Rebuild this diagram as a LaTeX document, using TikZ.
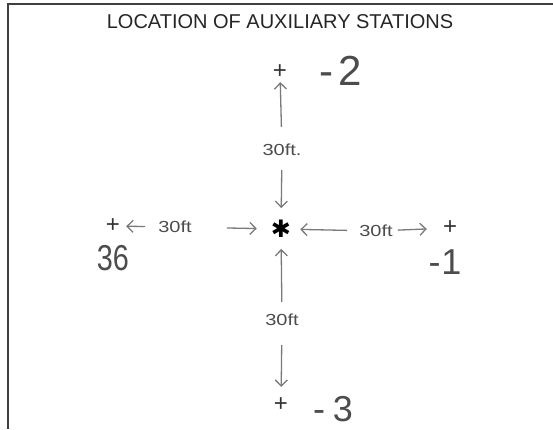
\documentclass[tikz,border=0pt]{standalone}
\usepackage{fontspec}
\setmainfont{Liberation Sans}
\newfontfamily\symfont{DejaVu Sans}
\usetikzlibrary{arrows.meta}
\definecolor{pencil}{HTML}{4C4C4C}
\definecolor{pencillight}{HTML}{7A7A7A}
\tikzset{
  stationmark/.style={inner sep=1pt, font=\fontsize{24}{24}\selectfont, text=black!80},
  handnum/.style={inner sep=0pt, font=\fontsize{36}{36}\selectfont, text=pencil},
  distlabel/.style={inner sep=1pt, font=\fontsize{16}{16}\selectfont, text=pencil},
  arr/.style={draw=pencillight, line width=1.3pt, -{Straight Barb[length=6pt,width=12pt]}}
}
\begin{document}
\begin{tikzpicture}[x=1pt,y=-1pt]
\useasboundingbox (0,0) rectangle (553,429);
\fill[white] (0,0) rectangle (553,429);
\draw[line width=1.6pt, black!75] (8,429) -- (8,4) -- (553,4);
\node[font=\fontsize{20}{20}\selectfont, text=black!85] (title) at (280,22) {LOCATION OF AUXILIARY STATIONS};
% stations
\node[inner sep=0pt, font=\symfont\fontsize{24}{24}\selectfont] (star) at (281,229) {✱};
\node[stationmark] (ptop) at (280,72) {+};
\node[stationmark] (pbot) at (281,405) {+};
\node[stationmark] (pleft) at (113,226) {+};
\node[stationmark] (pright) at (450,228) {+};
% hand numbers
\node[handnum, font=\fontsize{42}{42}\selectfont] (ntop) at (341,71) {-\hspace{5pt}2};
\node[handnum] (nbot) at (333,409) {-\hspace{8pt}3};
\node[handnum] (nleft) at (113,258) {\scalebox{0.8}[1]{36}};
\node[handnum] (nright) at (445,262) {-\hspace{1pt}1};
% distance labels
\node[distlabel] (lt) at (282,150) {\scalebox{1.25}[1]{30ft.}};
\node[distlabel] (lb) at (282,320) {\scalebox{1.25}[1]{30ft}};
\node[distlabel] (ll) at (175,227) {\scalebox{1.25}[1]{30ft}};
\node[distlabel] (lr) at (376,231) {\scalebox{1.25}[1]{30ft}};
% arrows
\draw[arr, shorten <=16pt, shorten >=2pt] (lt) -- (ptop);
\draw[arr, shorten <=13pt, shorten >=12pt] (lt) -- (star);
\draw[arr, shorten <=11pt, shorten >=11pt] (lb) -- (star);
\draw[arr, shorten <=18pt, shorten >=10pt] (lb) -- (pbot);
\draw[arr, shorten <=12pt, shorten >=5pt] (ll) -- (pleft);
\draw[arr, shorten <=34pt, shorten >=14pt] (ll) -- (star);
\draw[arr, shorten <=11pt, shorten >=9pt] (lr) -- (star);
\draw[arr, shorten <=4pt, shorten >=15pt] (lr) -- (pright);
\end{tikzpicture}
\end{document}
